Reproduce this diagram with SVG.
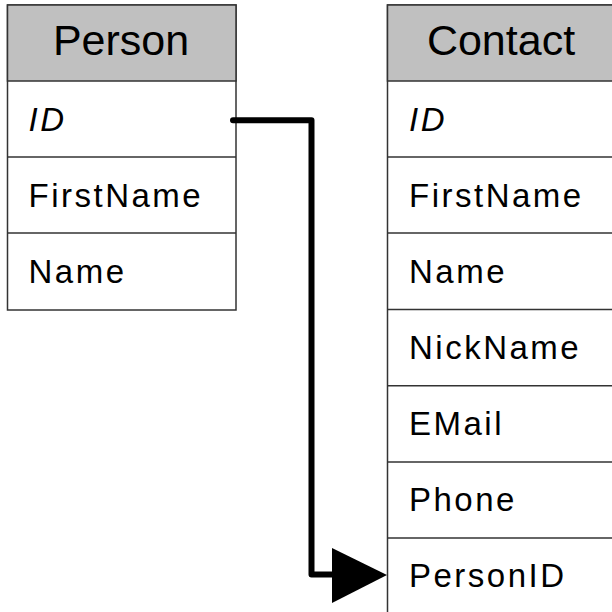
<svg xmlns="http://www.w3.org/2000/svg" width="612" height="612" viewBox="0 0 612 612">
<style>
.box{fill:#ffffff;stroke:#333333;stroke-width:1.5}
.hdr{fill:#c0c0c0;stroke:#333333;stroke-width:1.5}
.sep{stroke:#333333;stroke-width:1.5}
.title{font-family:"Liberation Sans",Arial,sans-serif;font-size:43px;fill:#000;text-anchor:middle}
.fld{font-family:"Liberation Sans",Arial,sans-serif;font-size:33px;fill:#000;letter-spacing:2.5px}
.key{font-style:italic}
.conn{fill:none;stroke:#000;stroke-width:6;stroke-linejoin:round;stroke-linecap:round}
</style>
<rect width="612" height="612" fill="#ffffff"/>
<g id="person">
<rect class="box" x="7.5" y="5" width="228.5" height="305"/>
<rect class="hdr" x="7.5" y="5" width="228.5" height="76"/>
<line class="sep" x1="7.5" y1="157" x2="236" y2="157"/>
<line class="sep" x1="7.5" y1="233" x2="236" y2="233"/>
<text class="title" x="121" y="54.5">Person</text>
<text class="fld key" x="28.5" y="130.7">ID</text>
<text class="fld" x="28.5" y="206.7">FirstName</text>
<text class="fld" x="28.5" y="282.7">Name</text>
</g>
<g id="contact">
<rect class="box" x="387.5" y="5" width="240" height="620"/>
<rect class="hdr" x="387.5" y="5" width="240" height="76"/>
<line class="sep" x1="387.5" y1="157" x2="612" y2="157"/>
<line class="sep" x1="387.5" y1="233" x2="612" y2="233"/>
<line class="sep" x1="387.5" y1="309.5" x2="612" y2="309.5"/>
<line class="sep" x1="387.5" y1="385.7" x2="612" y2="385.7"/>
<line class="sep" x1="387.5" y1="462" x2="612" y2="462"/>
<line class="sep" x1="387.5" y1="538" x2="612" y2="538"/>
<text class="title" x="501" y="54.5">Contact</text>
<text class="fld key" x="409" y="130.7">ID</text>
<text class="fld" x="409" y="206.7">FirstName</text>
<text class="fld" x="409" y="282.7">Name</text>
<text class="fld" x="409" y="359">NickName</text>
<text class="fld" x="409" y="435">EMail</text>
<text class="fld" x="409" y="511">Phone</text>
<text class="fld" x="409" y="587">PersonID</text>
</g>
<g id="connectors">
<path class="conn" d="M233,120.3 H311.5 V574.5 H336"/>
<polygon points="387,575 332,548 332,603" fill="#000"/>
</g>
</svg>
